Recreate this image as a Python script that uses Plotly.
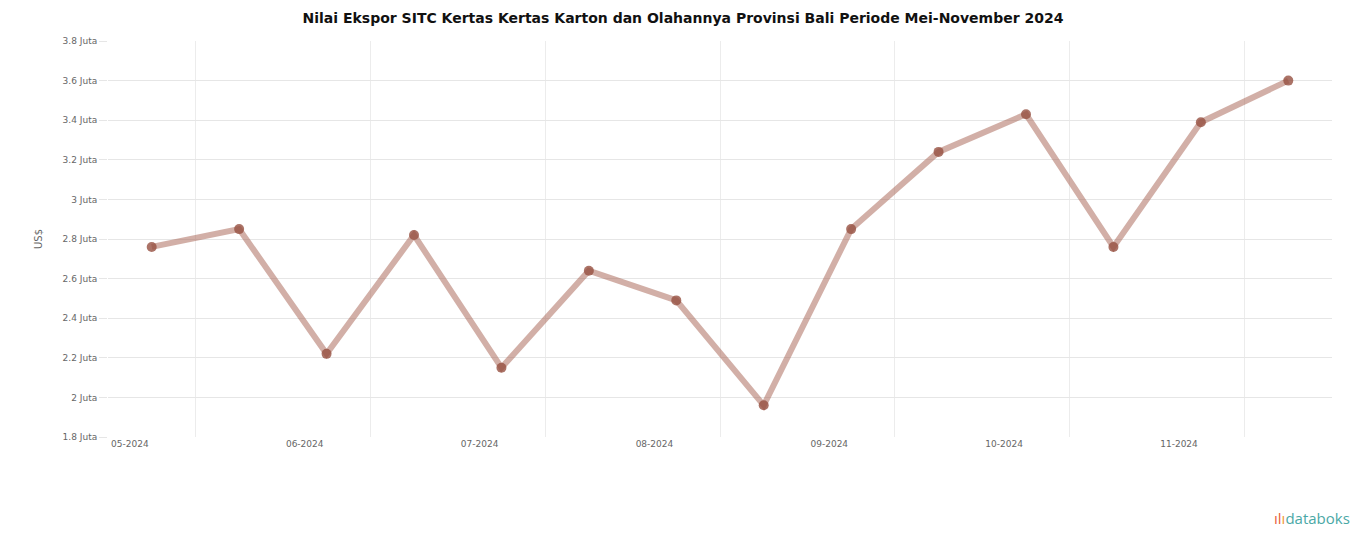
import plotly.graph_objects as go

# nilai ekspor (juta US$), dua titik per bulan
periode = ["Mei I", "Mei II", "Jun I", "Jun II", "Jul I", "Jul II", "Agu I", "Agu II",
           "Sep I", "Sep II", "Okt I", "Okt II", "Nov I", "Nov II"]
nilai = [2.76, 2.85, 2.22, 2.82, 2.15, 2.64, 2.49, 1.96, 2.85, 3.24, 3.43, 2.76, 3.39, 3.60]

bulan_label = ["05-2024", "06-2024", "07-2024", "08-2024", "09-2024", "10-2024", "11-2024"]
y_ticks = [1.8, 2.0, 2.2, 2.4, 2.6, 2.8, 3.0, 3.2, 3.4, 3.6, 3.8]
y_text = ["1.8 Juta", "2 Juta", "2.2 Juta", "2.4 Juta", "2.6 Juta", "2.8 Juta", "3 Juta",
          "3.2 Juta", "3.4 Juta", "3.6 Juta", "3.8 Juta"]

xs = list(range(len(periode)))

fig = go.Figure()
fig.add_trace(go.Scatter(
    x=xs, y=nilai, mode="lines+markers", name="Nilai Ekspor",
    text=periode, hovertemplate="%{text}: %{y}<extra></extra>",
    line=dict(color="rgba(165,95,80,0.5)", width=6),
    marker=dict(color="rgba(150,80,65,0.8)", size=10)))

# page body has an 8px margin, so the figure is a bit smaller than the window
fig.update_layout(
    title=dict(text="<b>Nilai Ekspor SITC Kertas Kertas Karton dan Olahannya Provinsi Bali Periode Mei-November 2024</b>",
               x=0.5, xanchor="center", y=0.99, yanchor="top",
               font=dict(family="DejaVu Sans", size=14, color="#111")),
    width=1350, height=531, plot_bgcolor="white", paper_bgcolor="white",
    margin=dict(l=100, r=26, t=33, b=102), showlegend=False,
    font=dict(family="DejaVu Sans", size=9, color="#666"),
    xaxis=dict(range=[-0.5, 13.5], tickvals=[-0.25 + 2 * i for i in range(len(bulan_label))],
               ticktext=bulan_label, showgrid=False, zeroline=False, ticks="",
               showline=False,
               minor=dict(tick0=0.5, dtick=2, showgrid=True, gridcolor="#ececec", gridwidth=1)),
    yaxis=dict(range=[1.8, 3.8], tickvals=y_ticks, ticktext=y_text, gridcolor="#e6e6e6",
               zeroline=False, ticks="outside", ticklen=8, tickcolor="#e6e6e6",
               title=dict(text="US$", font=dict(size=10, color="#666"), standoff=18)),
)

fig.add_annotation(
    text="<span style='color:#e8613c'>ıl</span><span style='color:#f29a3b'>ı</span>databoks",
    xref="paper", yref="paper", x=1.0163, y=-0.2045, xanchor="right", yanchor="middle",
    showarrow=False, font=dict(family="Open Sans", size=15, color="#4aa8a6"))

fig.write_html("out.html")
